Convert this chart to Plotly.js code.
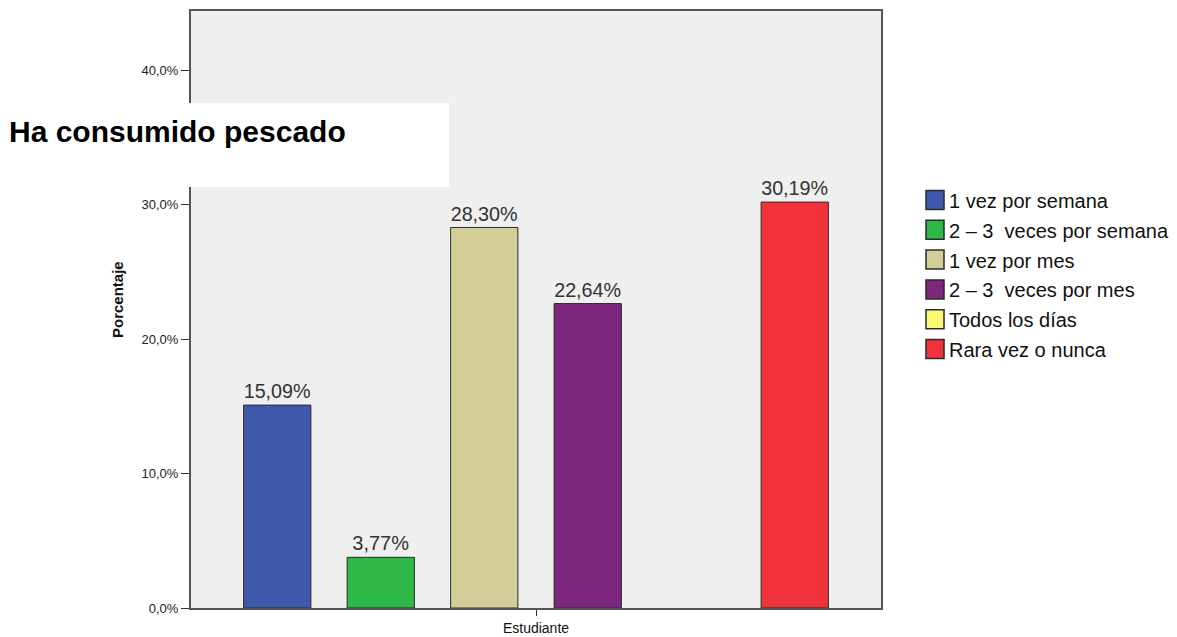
<!DOCTYPE html>
<html>
<head>
<meta charset="utf-8">
<script src="https://cdn.plot.ly/plotly-3.0.1.min.js"></script>
<style>html,body{margin:0;padding:0;background:#fff;}#chart{width:1177px;height:637px;}</style>
</head>
<body>
<div id="chart"></div>
<script>
const category = ['Estudiante'];
const seriesNames = ['1 vez por semana', '2 – 3  veces por semana', '1 vez por mes', '2 – 3  veces por mes', 'Todos los días', 'Rara vez o nunca'];
const seriesValues = [15.09, 3.77, 28.30, 22.64, 0, 30.19];
const seriesColors = ['#3e58ac', '#2eb848', '#d3ce97', '#7c277d', '#fbf874', '#f0323a'];
const yTicks = [0, 10, 20, 30, 40];
const titleText = 'Ha consumido pescado';
const yTitle = 'Porcentaje';

const FONT = 'Liberation Sans, Arial, sans-serif';
const W = 1177, H = 637;
const L = 191, R = 881, T = 11, B = 608;
const pw = R - L, ph = B - T;
const px = v => (v - L) / pw;
const py = v => (B - v) / ph;

const traces = seriesNames.map((name, i) => ({
  type: 'bar',
  name: name,
  x: category,
  y: [seriesValues[i]],
  marker: {color: seriesColors[i], line: {color: '#2a2a2a', width: seriesValues[i] > 0 ? 1 : 0}},
  texttemplate: seriesValues[i] > 0 ? '%{y:.2f}%' : '',
  textposition: 'outside',
  cliponaxis: false,
  textfont: {family: FONT, size: 20, color: '#333'},
  hoverinfo: 'none',
  showlegend: false
}));

// custom legend built from the series arrays
const legTop = 200, legStep = 29.8;
const shapes = [{
  type: 'rect', xref: 'paper', yref: 'paper',
  x0: px(0), x1: px(449), y0: py(187), y1: py(103),
  fillcolor: '#ffffff', line: {width: 0}, layer: 'above'
}];
const annotations = [{
  xref: 'paper', yref: 'paper',
  x: px(7), y: py(131), xanchor: 'left', yanchor: 'middle',
  text: '<b>' + titleText + '</b>', showarrow: false,
  font: {family: FONT, size: 30, color: '#000'}
}, {
  xref: 'paper', yref: 'paper',
  x: px(117), y: py(300), xanchor: 'center', yanchor: 'middle',
  text: '<b>' + yTitle + '</b>', showarrow: false, textangle: -90,
  font: {family: FONT, size: 15, color: '#111'}
}];
seriesNames.forEach((name, i) => {
  const cy = legTop + legStep * i;
  shapes.push({
    type: 'rect', xref: 'paper', yref: 'paper',
    x0: px(926), x1: px(944), y0: py(cy + 9.5), y1: py(cy - 9.5),
    fillcolor: seriesColors[i], line: {color: '#2a2a2a', width: 1.5}
  });
  annotations.push({
    xref: 'paper', yref: 'paper',
    x: px(947), y: py(cy + 1), xanchor: 'left', yanchor: 'middle',
    text: name, showarrow: false,
    font: {family: FONT, size: 20, color: '#111'}
  });
});

const layout = {
  width: W, height: H,
  margin: {l: L, r: W - R, t: T, b: H - B, pad: 0},
  paper_bgcolor: '#ffffff',
  plot_bgcolor: '#efefef',
  separators: ',.',
  barmode: 'group',
  bargap: 0.1,
  bargroupgap: 0.35,
  showlegend: false,
  xaxis: {
    type: 'category',
    showgrid: false, zeroline: false,
    showline: true, linecolor: '#555', linewidth: 2, mirror: true,
    ticks: 'outside', ticklen: 6, tickcolor: '#333',
    tickfont: {family: FONT, size: 14, color: '#111'},
    fixedrange: true
  },
  yaxis: {
    range: [0, 44.4],
    tickvals: yTicks,
    ticktext: yTicks.map(v => v.toFixed(1).replace('.', ',') + '%'),
    showgrid: false, zeroline: false,
    showline: true, linecolor: '#555', linewidth: 2, mirror: true,
    ticks: 'outside', ticklen: 8, tickcolor: '#333',
    tickfont: {family: FONT, size: 13, color: '#222'},
    fixedrange: true
  },
  shapes: shapes,
  annotations: annotations
};

Plotly.newPlot('chart', traces, layout, {displayModeBar: false, staticPlot: true});
</script>
</body>
</html>
